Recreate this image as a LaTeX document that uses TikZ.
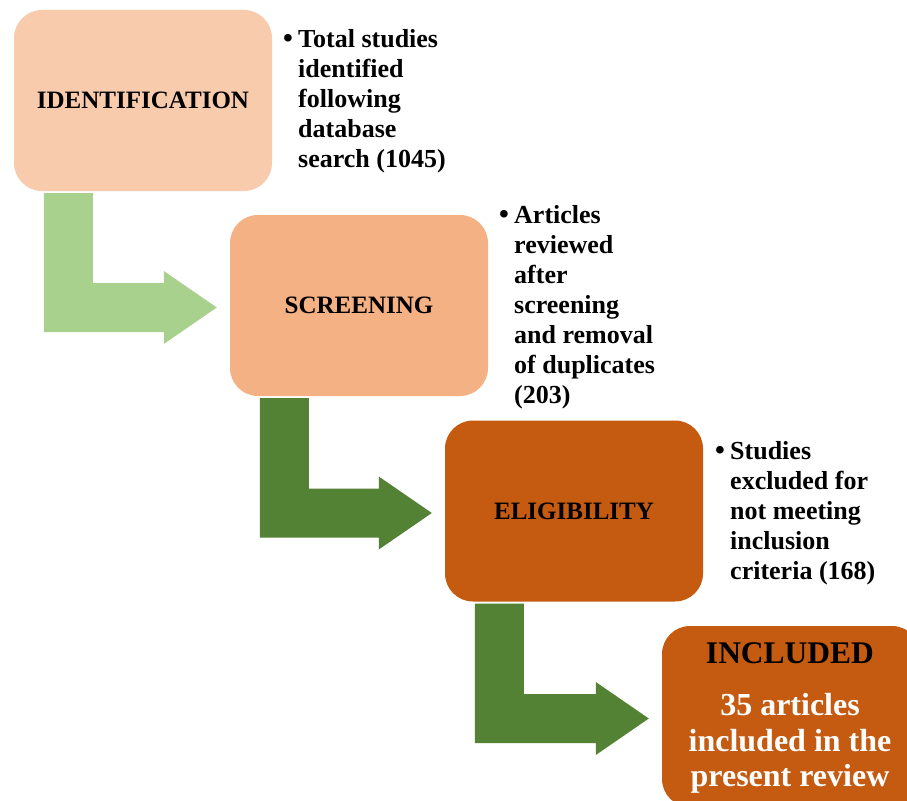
\documentclass[tikz,border=0pt]{standalone}
\usepackage{fontspec}
\setmainfont{Liberation Serif}
\usetikzlibrary{calc}
\definecolor{peachA}{HTML}{F8CBAD}
\definecolor{peachB}{HTML}{F4B183}
\definecolor{rust}{HTML}{C55A11}
\definecolor{lgreen}{HTML}{A9D18E}
\definecolor{dgreen}{HTML}{548235}
\tikzset{
  stagebox/.style={draw=none, rounded corners=28pt, minimum width=258pt, minimum height=181pt, inner sep=0pt, font=\fontsize{25}{30}\selectfont\bfseries},
  bullettxt/.style={anchor=base west, inner sep=0pt, align=left, font=\fontsize{26}{30}\selectfont\bfseries},
  bulletdot/.style={anchor=base east, inner sep=0pt, font=\fontsize{28}{30}\selectfont\bfseries},
  inctext/.style={anchor=base, inner sep=0pt, text=white, font=\fontsize{32}{35}\selectfont\bfseries},
}
\newcommand{\bentarrow}[4]{%
  \coordinate (#1s) at ($(#2.south west)+(30,2)$);
  \coordinate (#1t) at ($(#3.west)+(-13,2)$);
  \fill[#4] (#1s) -- ++(49,0) |- ($(#1t)+(-53,-24.5)$) -- ++(0,-12) -- (#1t)
     -- ($(#1t)+(-53,36.5)$) -- ++(0,-12) -| (#1s) -- cycle;}
\begin{document}
\begin{tikzpicture}[x=1pt,y=-1pt]
\useasboundingbox (0,0) rectangle (907,800);
\clip (0,0) rectangle (907,800);
% boxes
\node[stagebox, fill=peachA] (id) at (143,100.5) {IDENTIFICATION};
\node[stagebox, fill=peachB] (sc) at (359,305.5) {SCREENING};
\node[stagebox, fill=rust] (el) at (574,511) {ELIGIBILITY};
\node[stagebox, fill=rust] (inc) at (791,716.5) {};
% included texts
\node[anchor=base, inner sep=0pt, font=\fontsize{31.5}{34}\selectfont\bfseries] (inct) at (790,663) {INCLUDED};
\node[inctext] (incb1) at (790,715) {35 articles};
\node[inctext] (incb2) at (790,751) {included in the};
\node[inctext] (incb3) at (790,786) {present review};
% arrows
\bentarrow{a1}{id}{sc}{lgreen}
\bentarrow{a2}{sc}{el}{dgreen}
\bentarrow{a3}{el}{inc}{dgreen}
% bullet texts
\node[bulletdot] (d1) at (293,48) {\textbullet};
\node[bullettxt] (t1) at (298,167) {Total studies\\identified\\following\\database\\search (1045)};
\node[bulletdot] (d2) at (509,223) {\textbullet};
\node[bullettxt] (t2) at (514,403) {Articles\\reviewed\\after\\screening\\and removal\\of duplicates\\(203)};
\node[bulletdot] (d3) at (725,459) {\textbullet};
\node[bullettxt] (t3) at (730,579) {Studies\\excluded for\\not meeting\\inclusion\\criteria (168)};
\end{tikzpicture}
\end{document}
